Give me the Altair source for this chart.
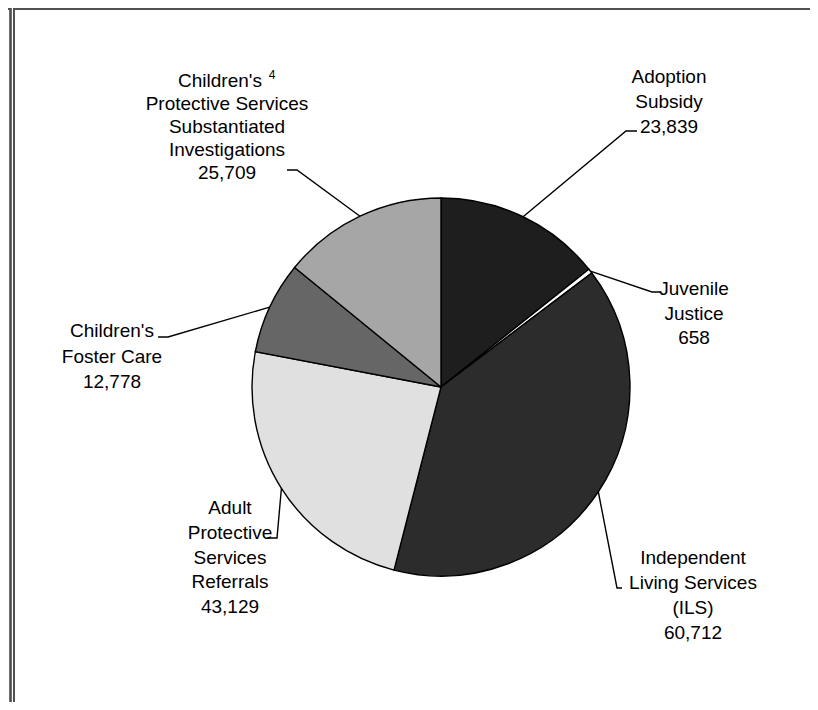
import math
import altair as alt
import pandas as pd

# ---- data ----
categories = [
    "Adoption Subsidy",
    "Juvenile Justice",
    "Independent Living Services (ILS)",
    "Adult Protective Services Referrals",
    "Children's Foster Care",
    "Children's Protective Services Substantiated Investigations",
]
values = [23839, 658, 60712, 43129, 12778, 25709]
# share of the circle each slice occupies as drawn in the picture (percent)
slice_share_pct = [14.3, 0.4, 39.3, 24.0, 7.9, 14.1]
label_lines = [
    ["Adoption", "Subsidy"],
    ["Juvenile", "Justice"],
    ["Independent", "Living Services", "(ILS)"],
    ["Adult", "Protective", "Services", "Referrals"],
    ["Children's", "Foster Care"],
    ["Children's", "Protective Services", "Substantiated", "Investigations"],
]
footnote_mark = "4"

# ---- layout (page pixels) ----
W, H = 802, 694
OFF = 8
CX, CY, R = 441, 387, 189
fills = ["#1e1e1e", "#ffffff", "#2c2c2c", "#e0e0e0", "#666666", "#a6a6a6"]
label_pos = [(669, 77, 25), (694, 289, 24.5), (693, 558, 25), (230, 508, 24.75),
             (112, 331, 25.5), (227, 81, 23)]
leader_bends = [
    [(626, 131), (637, 131)],
    [(652, 292), (661, 292)],
    [(617, 588), (622, 588)],
    [(277, 538), (267, 538)],
    [(168, 337), (158, 337)],
    [(297, 170), (287, 170)],
]

pie_df = pd.DataFrame({
    "category": categories,
    "share": slice_share_pct,
    "idx": list(range(len(categories))),
})

# leader lines: start on the rim at each slice's mid angle
rows = []
cum = 0.0
tot = sum(slice_share_pct)
for i, s in enumerate(slice_share_pct):
    mid = (cum + s / 2) / tot * 2 * math.pi
    cum += s
    ex = CX + R * math.sin(mid)
    ey = CY - R * math.cos(mid)
    pts = [(ex, ey)] + leader_bends[i]
    for k, (px, py) in enumerate(pts):
        rows.append({"leader": i, "ord": k, "x": px, "y": py})
leader_df = pd.DataFrame(rows)

trows = []
for i, lines in enumerate(label_lines):
    cx, y0, sp = label_pos[i]
    all_lines = lines + [f"{values[i]:,}"]
    for j, t in enumerate(all_lines):
        x = cx
        if i == 5 and j == 0:
            x = cx - 7
        trows.append({"x": x, "y": y0 + j * sp, "t": t})
text_df = pd.DataFrame(trows)
sup_df = pd.DataFrame({"x": [272], "y": [75], "t": [footnote_mark]})

xs = alt.Scale(domain=[OFF, OFF + W], range=[0, W])
ys = alt.Scale(domain=[OFF, OFF + H], range=[0, H])

pie = alt.Chart(pie_df).mark_arc(radius=R, stroke="black", strokeWidth=1.4).encode(
    theta=alt.Theta("share:Q", stack=True),
    color=alt.Color("category:N", scale=alt.Scale(domain=categories, range=fills), legend=None),
    order=alt.Order("idx:Q"),
    x=alt.value(CX - OFF),
    y=alt.value(CY - OFF),
)

leaders = alt.Chart(leader_df).mark_line(color="black", strokeWidth=1.4).encode(
    x=alt.X("x:Q", scale=xs, axis=None),
    y=alt.Y("y:Q", scale=ys, axis=None),
    detail="leader:N",
    order="ord:Q",
)

texts = alt.Chart(text_df).mark_text(
    font="Liberation Sans", fontSize=19, color="black", align="center", baseline="middle"
).encode(
    x=alt.X("x:Q", scale=xs, axis=None),
    y=alt.Y("y:Q", scale=ys, axis=None),
    text="t:N",
)

sup = alt.Chart(sup_df).mark_text(
    font="Liberation Sans", fontSize=12, color="black", align="center", baseline="middle"
).encode(
    x=alt.X("x:Q", scale=xs, axis=None),
    y=alt.Y("y:Q", scale=ys, axis=None),
    text="t:N",
)

frame_col = "#505050"
v1 = alt.Chart(pie_df).mark_rule(color=frame_col, strokeWidth=1.5).encode(
    x=alt.value(2.5), y=alt.value(0), y2=alt.value(H))
v2 = alt.Chart(pie_df).mark_rule(color=frame_col, strokeWidth=1.5).encode(
    x=alt.value(6), y=alt.value(0), y2=alt.value(H))
top1 = alt.Chart(pie_df).mark_rule(color=frame_col, strokeWidth=1.5).encode(
    x=alt.value(6), x2=alt.value(W), y=alt.value(0.75))
top2 = alt.Chart(pie_df).mark_rule(color=frame_col, strokeWidth=1.5).encode(
    x=alt.value(0), x2=alt.value(2.5), y=alt.value(0.75))

chart = alt.layer(pie, leaders, texts, sup, v1, v2, top1, top2).properties(
    width=W, height=H, padding=0, autosize=alt.AutoSizeParams(type="none"),
    background="white",
).configure_view(stroke=None)

chart.save("out.html", embed_options={"renderer": "svg", "actions": False})
